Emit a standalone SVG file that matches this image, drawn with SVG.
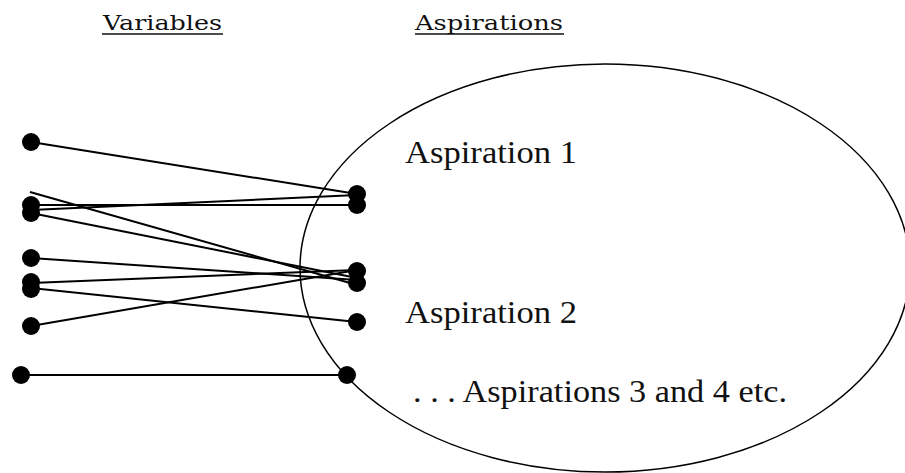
<svg xmlns="http://www.w3.org/2000/svg" width="905" height="473" viewBox="0 0 905 473">
<style>
.h{font-family:"DejaVu Serif","Liberation Serif",serif;font-size:20px;fill:#111}
.u{stroke:#111;stroke-width:1.5}
.t{font-family:"Liberation Serif",serif;font-size:32px;fill:#111}
.c line{stroke:#000;stroke-width:2}
.d{fill:#000}
</style>
<rect width="905" height="473" fill="#fff"/>
<g id="headers">
<text class="h" x="103" y="30" textLength="119" lengthAdjust="spacingAndGlyphs">Variables</text>
<line class="u" x1="102" y1="34" x2="223" y2="34"/>
<text class="h" x="415" y="30" textLength="148" lengthAdjust="spacingAndGlyphs">Aspirations</text>
<line class="u" x1="415" y1="34" x2="564" y2="34"/>
</g>
<g id="aspirations">
<ellipse cx="605" cy="268" rx="305" ry="204" fill="none" stroke="#000" stroke-width="1.5"/>
<text class="t" x="405" y="163" textLength="172" lengthAdjust="spacingAndGlyphs">Aspiration 1</text>
<text class="t" x="405" y="323" textLength="172" lengthAdjust="spacingAndGlyphs">Aspiration 2</text>
<text class="t" x="413" y="402" textLength="374" lengthAdjust="spacingAndGlyphs">. . . Aspirations 3 and 4 etc.</text>
</g>
<g id="connectors" class="c">
<line x1="31" y1="142" x2="357" y2="194"/>
<line x1="30" y1="192" x2="357" y2="285"/>
<line x1="31" y1="205" x2="357" y2="205"/>
<line x1="31" y1="210" x2="357" y2="195"/>
<line x1="31" y1="213" x2="357" y2="278"/>
<line x1="31" y1="258" x2="357" y2="280"/>
<line x1="31" y1="283" x2="357" y2="270"/>
<line x1="31" y1="288" x2="357" y2="322"/>
<line x1="31" y1="326" x2="357" y2="270"/>
<line x1="21" y1="375" x2="347" y2="375"/>
</g>
<g id="variables" class="d">
<circle cx="31" cy="142" r="9"/>
<circle cx="31" cy="205" r="9"/>
<circle cx="31" cy="213" r="9"/>
<circle cx="31" cy="258" r="9"/>
<circle cx="31" cy="282" r="9"/>
<circle cx="31" cy="289" r="9"/>
<circle cx="31" cy="326" r="9"/>
<circle cx="21" cy="375" r="9"/>
</g>
<g id="targets" class="d">
<circle cx="357" cy="194" r="9"/>
<circle cx="357" cy="205" r="9"/>
<circle cx="357" cy="271" r="9"/>
<circle cx="357" cy="283" r="9"/>
<circle cx="357" cy="322" r="9"/>
<circle cx="347" cy="375" r="9"/>
</g>
</svg>
